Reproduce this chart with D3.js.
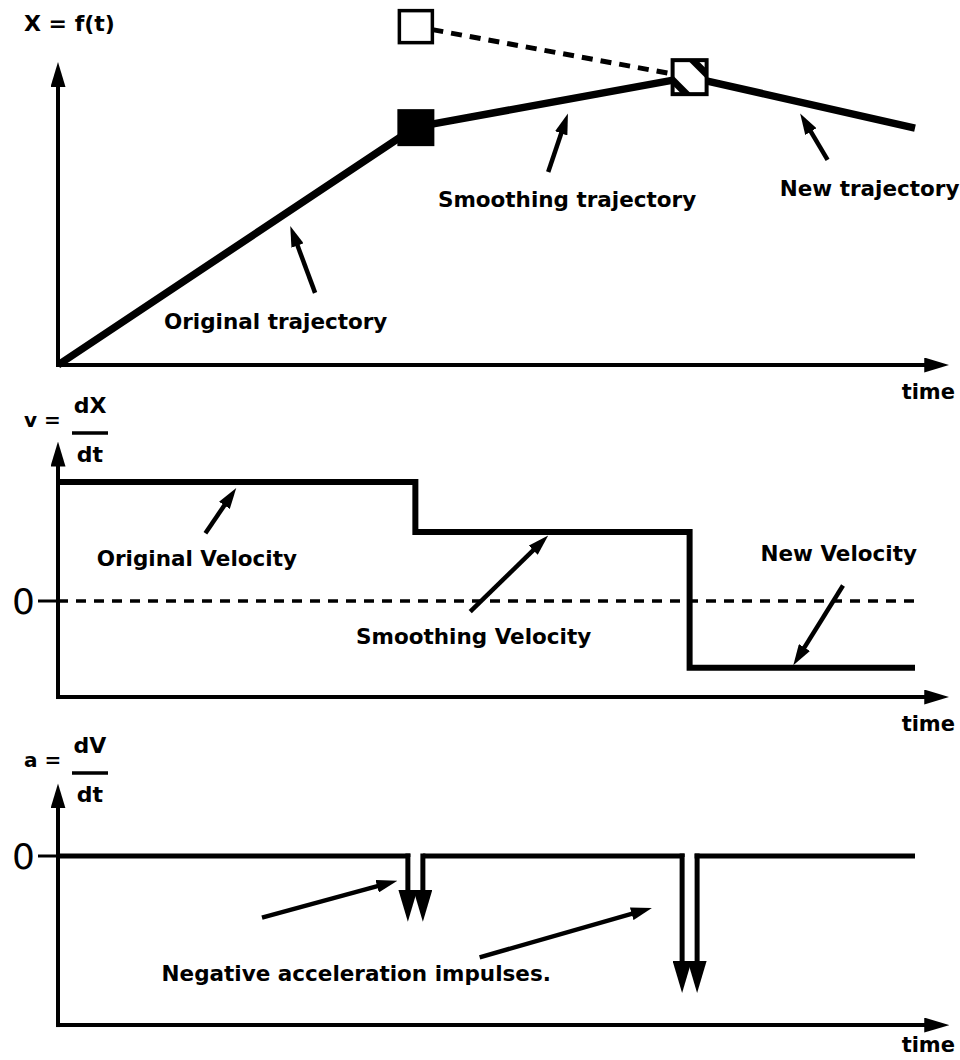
<!DOCTYPE html>
<html>
<head>
<meta charset="utf-8">
<script src="https://cdn.jsdelivr.net/npm/d3@7"></script>
<style>
  body { margin: 0; background: #fff; }
  svg text { font-family: "DejaVu Sans", sans-serif; font-weight: bold; fill: #000; }
</style>
</head>
<body>
<svg width="960" height="1060"></svg>
<script>
// time breakpoints (0..100 = end of the drawn trajectory)
var tKnots = [0, 41.7, 73.7, 100];
var tAxisEnd = 104;

// position X = f(t)
var posX = [0, 78.5, 95, 78.2];
var ghostX = 112;            // originally planned point at t = tKnots[1]

// velocity steps, one per segment
var velocity = [1, 0.58, -0.56];

// acceleration impulses at the breakpoints
var impulseT = [41.7, 73.7];
var impulseA = [-0.48, -1.0];

// axis ranges of the three panels
var axisX = [0, 100];
var axisV = [-0.807, 1.34];
var axisA = [-1.234, 0.53];

var notesTop = [
  {text: "Original trajectory", t: 25.4, v: 14.2, from: [30.0, 23.8], to: [27.1, 45.9]},
  {text: "Smoothing trajectory", t: 59.4, v: 54.5, from: [57.2, 63.7], to: [59.5, 83.0]},
  {text: "New trajectory", t: 94.7, v: 58.4, from: [89.8, 67.7], to: [86.6, 83.0]}
];
var notesMid = [
  {text: "Original Velocity", t: 16.2, v: 0.36, from: [17.2, 0.57], to: [20.8, 0.95]},
  {text: "Smoothing Velocity", t: 48.5, v: -0.30, from: [48.1, -0.09], to: [57.2, 0.55]},
  {text: "New Velocity", t: 91.1, v: 0.40, from: [91.6, 0.13], to: [85.8, -0.54]}
];
var notesBot = [
  {text: "Negative acceleration impulses.", t: 34.8, v: -0.86, from: null, to: null}
];
var arrowsBot = [
  {from: [23.8, -0.45], to: [39.6, -0.18]},
  {from: [49.2, -0.74], to: [69.3, -0.38]}
];

var svg = d3.select("svg");
var x = d3.scaleLinear().domain([0, 100]).range([58, 915]);
var yX = d3.scaleLinear().domain([0, 100]).range([365, 62]);
var yV = d3.scaleLinear().domain([0, 1]).range([601, 482]);
var yA = d3.scaleLinear().domain([0, -1]).range([856, 993]);

var defs = svg.append("defs");
function marker(id, w, h) {
  defs.append("marker")
      .attr("id", id)
      .attr("viewBox", "0 0 10 10")
      .attr("preserveAspectRatio", "none")
      .attr("refX", 10).attr("refY", 5)
      .attr("markerUnits", "userSpaceOnUse")
      .attr("markerWidth", w).attr("markerHeight", h)
      .attr("orient", "auto")
    .append("path").attr("d", "M0,0 L10,5 L0,10 z").attr("fill", "#000");
}
marker("axhead", 25, 15);
marker("head", 21, 13);
marker("imphead", 32, 19);

// line from a to b (pixels) with arrow head, shaft stops under the head
function arrow(g, x1, y1, x2, y2, id, w, back) {
  var dx = x2 - x1, dy = y2 - y1, len = Math.sqrt(dx * dx + dy * dy);
  var ex = x2 - dx / len * back, ey = y2 - dy / len * back;
  g.append("line")
      .attr("x1", x1).attr("y1", y1).attr("x2", ex).attr("y2", ey)
      .attr("stroke", "#000").attr("stroke-width", w);
  g.append("path")
      .attr("d", "M" + ex + "," + ey + "L" + x2 + "," + y2)
      .attr("stroke", "none").attr("fill", "none")
      .attr("marker-end", "url(#" + id + ")");
}

function axes(y, range) {
  var g = svg.append("g");
  arrow(g, x(0), y(range[0]) + 2, x(0), y(range[1]), "axhead", 4, 12);
  arrow(g, x(0) - 2, y(range[0]), x(tAxisEnd), y(range[0]), "axhead", 4, 12);
  g.append("text")
      .attr("x", 955).attr("y", Math.min(y(range[0]) + 34, 1052))
      .attr("text-anchor", "end")
      .style("font-size", "21px")
      .text("time");
  return g;
}

function notes(g, y, list) {
  list.forEach(function(d) {
    g.append("text")
        .attr("x", x(d.t)).attr("y", y(d.v))
        .attr("dy", "0.35em")
        .attr("text-anchor", "middle")
        .style("font-size", "21.5px")
        .text(d.text);
    if (d.from) {
      arrow(g, x(d.from[0]), y(d.from[1]), x(d.to[0]), y(d.to[1]), "head", 4.5, 14);
    }
  });
}

function fraction(g, lhs, num, yTop) {
  g.append("text").attr("x", 24).attr("y", yTop + 29).style("font-size", "20px").text(lhs);
  g.append("text").attr("x", 90).attr("y", yTop + 15).attr("text-anchor", "middle").style("font-size", "22px").text(num);
  g.append("line").attr("x1", 72).attr("x2", 108).attr("y1", yTop + 35).attr("y2", yTop + 35)
      .attr("stroke", "#000").attr("stroke-width", 3.5);
  g.append("text").attr("x", 90).attr("y", yTop + 64).attr("text-anchor", "middle").style("font-size", "22px").text("dt");
}

function zeroLabel(g, y) {
  g.append("line").attr("x1", 38).attr("x2", x(0)).attr("y1", y(0)).attr("y2", y(0))
      .attr("stroke", "#000").attr("stroke-width", 3);
  g.append("text").attr("x", 35).attr("y", y(0)).attr("dy", "0.36em")
      .attr("text-anchor", "end")
      .style("font-size", "36px").style("font-weight", "normal")
      .text("0");
}

// ---------- top panel: position ----------
var gTop = axes(yX, axisX);
gTop.append("text").attr("x", 24).attr("y", 31).style("font-size", "22px").text("X = f(t)");

gTop.append("line")
    .attr("x1", x(tKnots[1]) + 17).attr("y1", yX(ghostX) + 4)
    .attr("x2", x(tKnots[2])).attr("y2", yX(posX[2]))
    .attr("stroke", "#000").attr("stroke-width", 5).attr("stroke-dasharray", "11,8");

var line = d3.line().x(function(d) { return x(d[0]); }).y(function(d) { return yX(d[1]); });
gTop.append("path")
    .attr("d", line(d3.zip(tKnots, posX)))
    .attr("fill", "none").attr("stroke", "#000").attr("stroke-width", 7.5)
    .attr("stroke-linejoin", "round");

// planned point (open), smoothing start (filled), new trajectory join (hatched)
gTop.append("rect")
    .attr("x", x(tKnots[1]) - 16).attr("y", yX(ghostX) - 15).attr("width", 33).attr("height", 32)
    .attr("fill", "#fff").attr("stroke", "#000").attr("stroke-width", 3.5);
gTop.append("rect")
    .attr("x", x(tKnots[1]) - 18).attr("y", yX(posX[1]) - 18).attr("width", 37).attr("height", 37)
    .attr("fill", "#000");

var hx = x(tKnots[2]), hy = yX(posX[2]);
defs.append("clipPath").attr("id", "hclip")
  .append("rect").attr("x", hx - 17).attr("y", hy - 17).attr("width", 34).attr("height", 34);
gTop.append("rect")
    .attr("x", hx - 17).attr("y", hy - 17).attr("width", 34).attr("height", 34)
    .attr("fill", "#fff");
var hatch = gTop.append("g").attr("clip-path", "url(#hclip)");
[-10, 10].forEach(function(o) {
  hatch.append("line")
      .attr("x1", hx - 22 + o).attr("y1", hy - 22 - o)
      .attr("x2", hx + 22 + o).attr("y2", hy + 22 - o)
      .attr("stroke", "#000").attr("stroke-width", 7);
});
gTop.append("rect")
    .attr("x", hx - 17).attr("y", hy - 17).attr("width", 34).attr("height", 34)
    .attr("fill", "none").attr("stroke", "#000").attr("stroke-width", 4);

notes(gTop, yX, notesTop);

// ---------- middle panel: velocity ----------
var gMid = axes(yV, axisV);
fraction(gMid, "v =", "dX", 398);
zeroLabel(gMid, yV);
gMid.append("line")
    .attr("x1", x(0)).attr("x2", x(100)).attr("y1", yV(0)).attr("y2", yV(0))
    .attr("stroke", "#000").attr("stroke-width", 3.5).attr("stroke-dasharray", "10,8");

var steps = [];
velocity.forEach(function(v, i) {
  steps.push([tKnots[i], v], [tKnots[i + 1], v]);
});
var vline = d3.line().x(function(d) { return x(d[0]); }).y(function(d) { return yV(d[1]); });
gMid.append("path")
    .attr("d", vline(steps))
    .attr("fill", "none").attr("stroke", "#000").attr("stroke-width", 6);
notes(gMid, yV, notesMid);

// ---------- bottom panel: acceleration ----------
var gBot = axes(yA, axisA);
fraction(gBot, "a =", "dV", 738);
zeroLabel(gBot, yA);

var gap = 7.5;
var segStart = x(0);
impulseT.forEach(function(t, i) {
  var cx = x(t);
  gBot.append("path")
      .attr("d", "M" + segStart + "," + yA(0) + "H" + (cx - gap) + "V" + (yA(0) + 1))
      .attr("fill", "none").attr("stroke", "#000").attr("stroke-width", 5)
      .attr("stroke-linejoin", "miter");
  arrow(gBot, cx - gap, yA(0) - 2.5, cx - gap, yA(impulseA[i]), "imphead", 5, 24);
  arrow(gBot, cx + gap, yA(0) - 2.5, cx + gap, yA(impulseA[i]), "imphead", 5, 24);
  segStart = cx + gap;
});
gBot.append("path")
    .attr("d", "M" + (segStart - 2.5) + "," + yA(0) + "H" + x(100))
    .attr("fill", "none").attr("stroke", "#000").attr("stroke-width", 5);

notes(gBot, yA, notesBot);
arrowsBot.forEach(function(d) {
  arrow(gBot, x(d.from[0]), yA(d.from[1]), x(d.to[0]), yA(d.to[1]), "head", 4.5, 14);
});
</script>
</body>
</html>
